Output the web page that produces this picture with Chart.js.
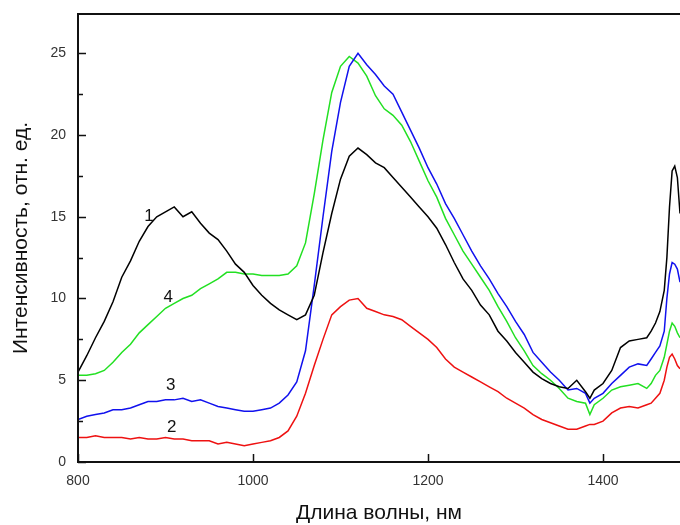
<!DOCTYPE html>
<html>
<head>
<meta charset="utf-8">
<script src="https://cdn.jsdelivr.net/npm/chart.js@4"></script>
<style>
html,body{margin:0;padding:0;background:#fff;}
#wrap{width:680px;height:525px;position:relative;}
</style>
</head>
<body>
<div id="wrap"><canvas id="c"></canvas></div>
<script>
// wavelength, nm
const wavelengths = [
  800,810,820,830,840,850,860,870,880,890,
  900,910,920,930,940,950,960,970,980,990,
  1000,1010,1020,1030,1040,1050,1060,1070,1080,1090,
  1100,1110,1120,1130,1140,1150,1160,1170,1180,1190,
  1200,1210,1220,1230,1240,1250,1260,1270,1280,1290,
  1300,1310,1320,1330,1340,1350,1360,1370,1380,1385,1390,
  1400,1410,1420,1430,1440,1450,
  1455,1460,1465,1470,1473,1476,1479,1482,1485,1488
];
// curve 1 (black)
const series1 = [
  5.5,6.5,7.6,8.6,9.8,11.3,12.3,13.5,14.4,15.0,
  15.3,15.6,15.0,15.3,14.6,14.0,13.6,12.9,12.1,11.6,
  10.8,10.2,9.7,9.3,9.0,8.7,9.0,10.2,12.8,15.2,
  17.3,18.7,19.2,18.8,18.3,18.0,17.4,16.8,16.2,15.6,
  15.0,14.3,13.3,12.2,11.2,10.5,9.6,9.0,8.0,7.4,
  6.7,6.1,5.5,5.1,4.8,4.6,4.5,5.0,4.3,3.9,4.4,
  4.8,5.6,7.0,7.4,7.5,7.6,
  8.0,8.5,9.2,10.5,12.5,15.6,17.8,18.1,17.4,15.2
];
// curve 2 (red)
const series2 = [
  1.5,1.5,1.6,1.5,1.5,1.5,1.4,1.5,1.4,1.4,
  1.5,1.4,1.4,1.3,1.3,1.3,1.1,1.2,1.1,1.0,
  1.1,1.2,1.3,1.5,1.9,2.8,4.2,5.9,7.5,9.0,
  9.5,9.9,10.0,9.4,9.2,9.0,8.9,8.7,8.3,7.9,
  7.5,7.0,6.3,5.8,5.5,5.2,4.9,4.6,4.3,3.9,
  3.6,3.3,2.9,2.6,2.4,2.2,2.0,2.0,2.2,2.3,2.3,
  2.5,3.0,3.3,3.4,3.3,3.5,
  3.6,3.9,4.2,5.0,5.8,6.4,6.6,6.3,5.9,5.7
];
// curve 3 (blue)
const series3 = [
  2.6,2.8,2.9,3.0,3.2,3.2,3.3,3.5,3.7,3.7,
  3.8,3.8,3.9,3.7,3.8,3.6,3.4,3.3,3.2,3.1,
  3.1,3.2,3.3,3.6,4.1,4.9,6.8,10.8,15.0,19.0,
  22.0,24.2,25.0,24.3,23.7,23.0,22.5,21.4,20.3,19.2,
  18.0,17.0,15.8,14.9,13.9,12.9,12.0,11.2,10.3,9.5,
  8.6,7.8,6.7,6.1,5.5,5.0,4.4,4.5,4.2,3.6,3.9,
  4.2,4.8,5.3,5.8,6.0,5.9,
  6.3,6.7,7.1,8.0,10.0,11.5,12.2,12.1,11.8,11.0
];
// curve 4 (green)
const series4 = [
  5.3,5.3,5.4,5.6,6.1,6.7,7.2,7.9,8.4,8.9,
  9.4,9.7,10.0,10.2,10.6,10.9,11.2,11.6,11.6,11.5,
  11.5,11.4,11.4,11.4,11.5,12.0,13.4,16.4,19.7,22.6,
  24.2,24.8,24.4,23.6,22.4,21.6,21.2,20.6,19.6,18.4,
  17.2,16.2,14.9,13.9,12.9,12.1,11.3,10.5,9.5,8.6,
  7.6,6.8,5.9,5.4,5.0,4.5,3.9,3.7,3.6,2.9,3.5,
  3.9,4.4,4.6,4.7,4.8,4.5,
  4.8,5.3,5.6,6.4,7.2,8.0,8.5,8.3,7.9,7.6
];
const xTickValues = [800, 1000, 1200, 1400];
const yTickValues = [0, 5, 10, 15, 20, 25];
const curveNames = ['1', '2', '3', '4'];
const curveNameX = [881, 907, 906, 903];
const curveNameY = [15.0, 2.1, 4.7, 10.1];

const colors = ['#000000', '#ee1111', '#1111ee', '#22e022'];
const seriesList = [series1, series2, series3, series4];

const datasets = seriesList.map((s, i) => ({
  label: curveNames[i],
  data: s.map((v, j) => ({x: wavelengths[j], y: v})),
  borderColor: colors[i],
  borderWidth: 1.5,
  pointRadius: 0,
  tension: 0,
  fill: false
}));

const framePlugin = {
  id: 'frame',
  afterDatasetsDraw(chart) {
    const ctx = chart.ctx;
    const a = chart.chartArea;
    const xs = chart.scales.x, ys = chart.scales.y;
    ctx.save();
    ctx.strokeStyle = '#111';
    ctx.lineWidth = 2;
    ctx.beginPath();
    ctx.moveTo(a.right + 2, a.top);
    ctx.lineTo(a.left, a.top);
    ctx.lineTo(a.left, a.bottom);
    ctx.lineTo(a.right + 2, a.bottom);
    ctx.stroke();
    ctx.lineWidth = 1.5;
    ctx.beginPath();
    for (let v = 0; v <= 25; v += 2.5) {
      const y = Math.round(ys.getPixelForValue(v)) + 0.5;
      const len = (v % 5 === 0) ? 8 : 5;
      ctx.moveTo(a.left, y);
      ctx.lineTo(a.left + len, y);
    }
    xTickValues.forEach(v => {
      const x = Math.round(xs.getPixelForValue(v)) + 0.5;
      ctx.moveTo(x, a.bottom);
      ctx.lineTo(x, a.bottom - 8);
    });
    ctx.stroke();
    ctx.fillStyle = '#111';
    ctx.font = '17px "Liberation Sans", Arial, sans-serif';
    ctx.textAlign = 'center';
    ctx.textBaseline = 'middle';
    curveNames.forEach((n, i) => {
      ctx.fillText(n, xs.getPixelForValue(curveNameX[i]), ys.getPixelForValue(curveNameY[i]));
    });
    ctx.restore();
  }
};

new Chart(document.getElementById('c'), {
  type: 'line',
  data: {datasets},
  options: {
    responsive: true,
    maintainAspectRatio: false,
    animation: false,
    layout: {padding: {top: 14, left: 0, right: 0, bottom: 0}},
    plugins: {legend: {display: false}, tooltip: {enabled: false}},
    scales: {
      x: {
        type: 'linear',
        min: 800, max: 1488,
        afterFit(s) { s.height = 63; s.paddingLeft = 0; s.paddingRight = 0; },
        afterBuildTicks(s) { s.ticks = xTickValues.map(v => ({value: v})); },
        grid: {display: false, drawTicks: false},
        border: {display: false},
        ticks: {
          color: '#333',
          font: {family: '"Liberation Sans", Arial, sans-serif', size: 14},
          padding: 11,
          maxRotation: 0,
          callback: v => String(v)
        },
        title: {
          display: true,
          text: 'Длина волны, нм',
          color: '#111',
          font: {family: '"Liberation Sans", Arial, sans-serif', size: 21},
          padding: {top: 0, bottom: -1}
        }
      },
      y: {
        type: 'linear',
        min: 0, max: 27.4,
        afterFit(s) { s.width = 78; s.paddingTop = 0; s.paddingBottom = 0; },
        afterBuildTicks(s) { s.ticks = yTickValues.map(v => ({value: v})); },
        grid: {display: false, drawTicks: false},
        border: {display: false},
        ticks: {
          color: '#333',
          font: {family: '"Liberation Sans", Arial, sans-serif', size: 14},
          padding: 12,
          callback: v => String(v)
        },
        title: {
          display: true,
          text: 'Интенсивность, отн. ед.',
          color: '#111',
          font: {family: '"Liberation Sans", Arial, sans-serif', size: 21},
          padding: {top: 9, bottom: 0}
        }
      }
    }
  },
  plugins: [framePlugin]
});
</script>
</body>
</html>
